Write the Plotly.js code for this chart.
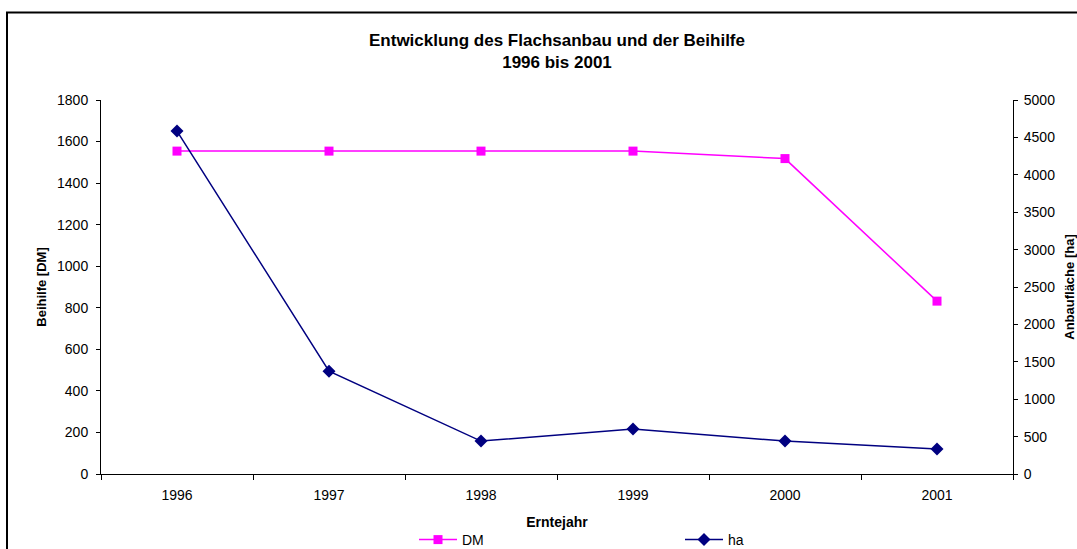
<!DOCTYPE html>
<html>
<head>
<meta charset="utf-8">
<script src="https://cdn.plot.ly/plotly-3.0.1.min.js"></script>
<style>html,body{margin:0;padding:0;background:#fff;}#chart{width:1077px;height:549px;}</style>
</head>
<body>
<div id="chart"></div>
<script>
var years = ["1996", "1997", "1998", "1999", "2000", "2001"];
var beihilfeDM = [1554, 1554, 1554, 1554, 1518, 832];
var flaecheHa = [4585, 1375, 440, 600, 440, 335];

var W = 1077, H = 549, L = 101, R = 64, T = 100, B = 75;
var pw = W - L - R, ph = H - T - B;
function px(x) { return (x - L) / pw; }
function py(y) { return (H - B - y) / ph; }

var font = "Liberation Sans, Arial, sans-serif";

var traces = [
  {
    x: years, y: beihilfeDM, name: "DM", type: "scatter", mode: "lines+markers",
    line: {color: "#FF00FF", width: 1.5},
    marker: {symbol: "square", size: 9, color: "#FF00FF"},
    yaxis: "y"
  },
  {
    x: years, y: flaecheHa, name: "ha", type: "scatter", mode: "lines+markers",
    line: {color: "#000080", width: 1.5},
    marker: {symbol: "diamond", size: 10, color: "#000080"},
    yaxis: "y2"
  }
];

var layout = {
  width: W, height: H,
  margin: {l: L, r: R, t: T, b: B, pad: 0, autoexpand: false},
  paper_bgcolor: "#ffffff", plot_bgcolor: "#ffffff",
  font: {family: font, size: 13, color: "#000"},
  title: {
    text: "<b>Entwicklung des Flachsanbau und der Beihilfe<br>1996 bis 2001</b>",
    font: {family: font, size: 17, color: "#000"},
    x: 0.5, xref: "paper", xanchor: "center",
    yref: "container", y: 1 - 46 / H, yanchor: "middle"
  },
  xaxis: {
    type: "category", range: [-0.5, 5.5],
    tickson: "boundaries", ticks: "outside", ticklen: 5, tickcolor: "#000",
    showline: true, linecolor: "#000", linewidth: 1,
    showgrid: false, zeroline: false, automargin: false,
    ticklabelstandoff: 8,
    tickfont: {family: font, size: 14},
    title: {text: "<b>Erntejahr</b>", font: {family: font, size: 14}, standoff: 15}
  },
  yaxis: {
    range: [0, 1800], dtick: 200,
    ticks: "outside", ticklen: 4, tickcolor: "#000",
    showline: true, linecolor: "#000", linewidth: 1,
    showgrid: false, zeroline: false, automargin: false,
    ticklabelstandoff: 5,
    tickfont: {family: font, size: 14},
    title: {text: "<b>Beihilfe [DM]</b>", font: {family: font, size: 13}, standoff: 7}
  },
  yaxis2: {
    overlaying: "y", side: "right",
    range: [0, 5000], dtick: 500,
    ticks: "outside", ticklen: 4, tickcolor: "#000",
    showline: true, linecolor: "#000", linewidth: 1,
    showgrid: false, zeroline: false, automargin: false,
    ticklabelstandoff: 3,
    tickfont: {family: font, size: 14},
    title: {text: "<b>Anbaufläche [ha]</b>", font: {family: font, size: 13}, standoff: 22}
  },
  showlegend: true,
  legend: {
    orientation: "h",
    x: px(414), xanchor: "left",
    y: py(540), yanchor: "middle",
    font: {family: font, size: 14},
    itemwidth: 38,
    entrywidth: 213,
    bgcolor: "rgba(0,0,0,0)"
  },
  shapes: [
    {type: "line", xref: "paper", yref: "paper", x0: px(7), x1: px(7), y0: py(12.5), y1: py(560), line: {color: "#000", width: 2}},
    {type: "line", xref: "paper", yref: "paper", x0: px(6), x1: px(1090), y0: py(12.5), y1: py(12.5), line: {color: "#000", width: 2}}
  ]
};

Plotly.newPlot("chart", traces, layout, {staticPlot: true, displayModeBar: false});
</script>
</body>
</html>
